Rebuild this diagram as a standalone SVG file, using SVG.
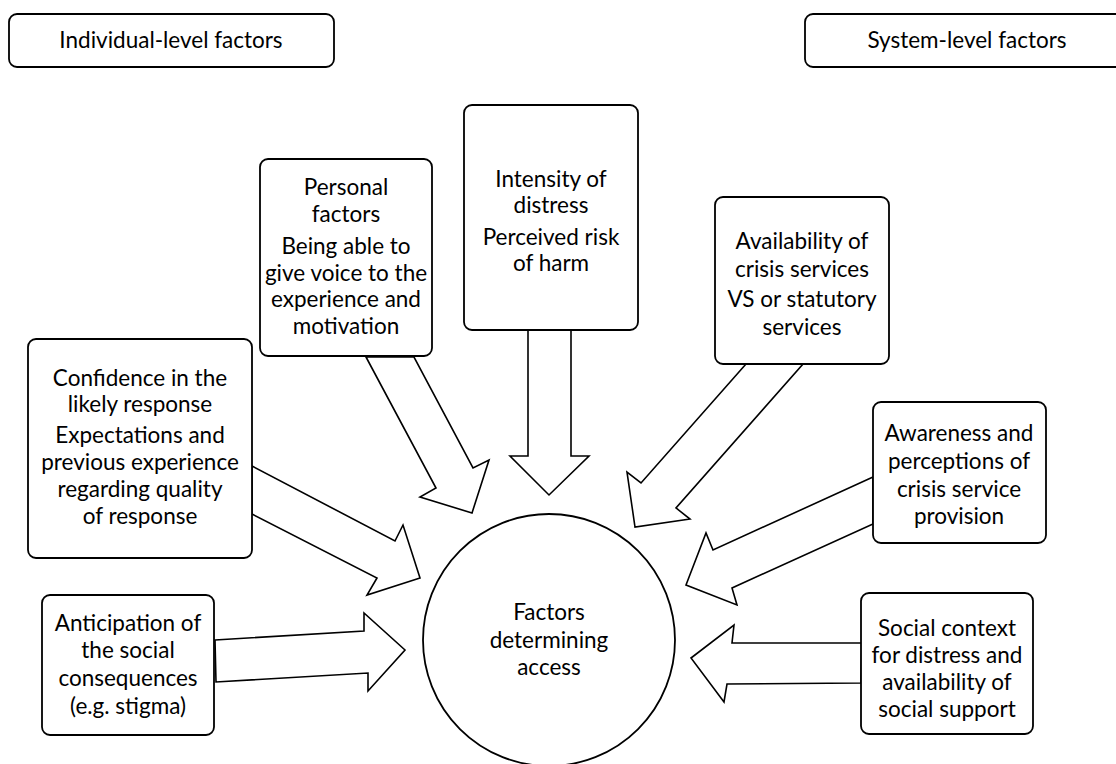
<svg xmlns="http://www.w3.org/2000/svg" width="1116" height="764" viewBox="0 0 1116 764">
<style>
.box{fill:#fff;stroke:#000;stroke-width:1.8}
.arr{fill:#fff;stroke:#000;stroke-width:1.6;stroke-linejoin:miter}
text{font-family:Lato,"Open Sans","Liberation Sans",sans-serif;font-size:22.5px;fill:#000;text-anchor:middle}
</style>
<rect width="1116" height="764" fill="#fff"/>
<g id="connectors">
<polygon class="arr" points="252,466 395,541 403,525 420,578 367,595 377,578 252,514"/>
<polygon class="arr" points="215,640 364,631 364,613 405,650 368,691 368,673 216,682"/>
<polygon class="arr" points="366,357 436,488 420,497 472,513 489,460 473,468 414,357"/>
<polygon class="arr" points="528,330 528,456 510,456 549,495 589,456 571,456 571,330"/>
<polygon class="arr" points="746,364 641,483 627,472 635,527 690,519 676,508 803,364"/>
<polygon class="arr" points="873,477 713,550 706,533 686,585 737,605 732,588 873,524"/>
<polygon class="arr" points="862,643 732,643 734,625 691,658 724,702 727,684 861,683"/>
</g>
<g id="individual-level">
<rect class="box" x="9" y="14" width="325" height="53" rx="8"/>
<text x="171" y="48">Individual-level factors</text>
</g>
<g id="system-level">
<rect class="box" x="805" y="14" width="325" height="53" rx="8"/>
<text x="967" y="48">System-level factors</text>
</g>
<g id="personal">
<rect class="box" x="260" y="159" width="172" height="197" rx="8"/>
<text x="346" y="195">Personal</text>
<text x="346" y="222">factors</text>
<text x="346" y="254">Being able to</text>
<text x="346" y="281">give voice to the</text>
<text x="346" y="307">experience and</text>
<text x="346" y="334">motivation</text>
</g>
<g id="intensity">
<rect class="box" x="464" y="105" width="174" height="225" rx="8"/>
<text x="551" y="187">Intensity of</text>
<text x="551" y="213">distress</text>
<text x="551" y="245">Perceived risk</text>
<text x="551" y="271">of harm</text>
</g>
<g id="availability">
<rect class="box" x="715" y="197" width="174" height="167" rx="8"/>
<text x="802" y="249">Availability of</text>
<text x="802" y="277">crisis services</text>
<text x="802" y="307">VS or statutory</text>
<text x="802" y="335">services</text>
</g>
<g id="confidence">
<rect class="box" x="28" y="339" width="224" height="219" rx="8"/>
<text x="140" y="386">Confidence in the</text>
<text x="140" y="412">likely response</text>
<text x="140" y="443">Expectations and</text>
<text x="140" y="470">previous experience</text>
<text x="140" y="497">regarding quality</text>
<text x="140" y="524">of response</text>
</g>
<g id="anticipation">
<rect class="box" x="42" y="595" width="172" height="140" rx="8"/>
<text x="128" y="631">Anticipation of</text>
<text x="128" y="658">the social</text>
<text x="128" y="686">consequences</text>
<text x="128" y="714">(e.g. stigma)</text>
</g>
<g id="awareness">
<rect class="box" x="873" y="402" width="173" height="141" rx="8"/>
<text x="959" y="441">Awareness and</text>
<text x="959" y="469">perceptions of</text>
<text x="959" y="497">crisis service</text>
<text x="959" y="524">provision</text>
</g>
<g id="social">
<rect class="box" x="861" y="593" width="172" height="141" rx="8"/>
<text x="947" y="636">Social context</text>
<text x="947" y="663">for distress and</text>
<text x="947" y="690">availability of</text>
<text x="947" y="717">social support</text>
</g>
<g id="center">
<circle class="box" cx="549" cy="640" r="126"/>
<text x="549" y="620">Factors</text>
<text x="549" y="648">determining</text>
<text x="549" y="675">access</text>
</g>
</svg>
